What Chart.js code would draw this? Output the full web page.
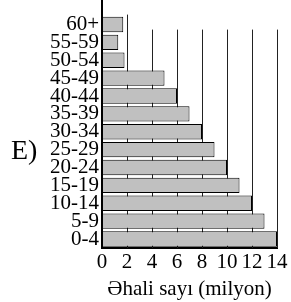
<!DOCTYPE html>
<html>
<head>
<meta charset="utf-8">
<script src="https://cdn.jsdelivr.net/npm/chart.js@4/dist/chart.umd.min.js"></script>
<style>
  html, body { margin: 0; padding: 0; background: #fff; }
  #wrap { width: 291px; height: 302px; }
</style>
</head>
<body>
<div id="wrap"><canvas id="PopulationAgeChart"></canvas></div>
<script>
    // age groups, bottom to top
    var ageGroups = ['0-4', '5-9', '10-14', '15-19', '20-24', '25-29', '30-34',
        '35-39', '40-44', '45-49', '50-54', '55-59', '60+'];
    // population, millions
    var population = [14, 13, 12, 11, 10, 9, 8, 7, 6, 5, 1.8, 1.3, 1.7];
    var xTicks = [0, 2, 4, 6, 8, 10, 12, 14];
    var axisTitle = 'Əhali sayı (milyon)';
    var panelLetter = 'E)';

    var serif = "'Liberation Serif', 'DejaVu Serif', serif";

    // grid lines behind bars; the first one reaches higher than the rest
    var gridPlugin = {
        id: 'gridPlugin',
        beforeDatasetsDraw: function (chart) {
            var ctx = chart.ctx, area = chart.chartArea, xs = chart.scales.x;
            ctx.save();
            ctx.strokeStyle = '#222';
            ctx.lineWidth = 1;
            xs.ticks.forEach(function (t, i) {
                if (t.value === 0) return;
                var px = Math.round(xs.getPixelForValue(t.value)) + 0.5;
                var top = t.value === xTicks[1] ? area.top - 1 : area.top + 14;
                ctx.beginPath();
                ctx.moveTo(px, top);
                ctx.lineTo(px, area.bottom);
                ctx.stroke();
            });
            ctx.restore();
        },
        afterDraw: function (chart) {
            var ctx = chart.ctx, area = chart.chartArea, xs = chart.scales.x;
            ctx.save();
            // vertical axis running up to the top edge
            var x0 = xs.getPixelForValue(0);
            ctx.strokeStyle = '#000';
            ctx.lineWidth = 2;
            ctx.beginPath();
            ctx.moveTo(x0, 0);
            ctx.lineTo(x0, area.bottom);
            ctx.stroke();
            // panel letter
            ctx.fillStyle = '#000';
            ctx.font = '28px ' + serif;
            ctx.textAlign = 'left';
            ctx.textBaseline = 'alphabetic';
            ctx.fillText(panelLetter, 11, 159);
            ctx.restore();
        }
    };

    var ctx = document.getElementById('PopulationAgeChart').getContext('2d');
    window.MyChartPopulation = new Chart(ctx, {
        type: 'bar',
        data: {
            labels: ageGroups,
            datasets: [{
                data: population,
                backgroundColor: '#c0c0c0',
                borderColor: '#000',
                borderWidth: 1,
                barPercentage: 0.86,
                categoryPercentage: 1
            }]
        },
        options: {
            indexAxis: 'y',
            responsive: true,
            maintainAspectRatio: false,
            animation: false,
            layout: { padding: { top: 14, right: 14, left: 0, bottom: 0 } },
            plugins: {
                legend: { display: false },
                tooltip: { enabled: false }
            },
            scales: {
                x: {
                    min: 0,
                    max: 14,
                    afterBuildTicks: function (scale) {
                        scale.ticks = xTicks.map(function (v) { return { value: v }; });
                    },
                    afterFit: function (scale) { scale.height = 54; },
                    grid: { display: false, drawTicks: false },
                    border: { display: true, color: '#000', width: 2 },
                    ticks: {
                        color: '#000',
                        padding: 2,
                        maxRotation: 0,
                        autoSkip: false,
                        font: { family: serif, size: 21 }
                    },
                    title: {
                        display: true,
                        text: axisTitle,
                        color: '#000',
                        padding: { top: 0, bottom: 0 },
                        font: { family: serif, size: 21 }
                    }
                },
                y: {
                    reverse: true,
                    afterFit: function (scale) { scale.width = 102; },
                    grid: { display: false, drawTicks: false },
                    border: { display: false },
                    ticks: {
                        color: '#000',
                        padding: 3,
                        autoSkip: false,
                        font: { family: serif, size: 21 }
                    }
                }
            }
        },
        plugins: [gridPlugin]
    });
</script>
</body>
</html>
